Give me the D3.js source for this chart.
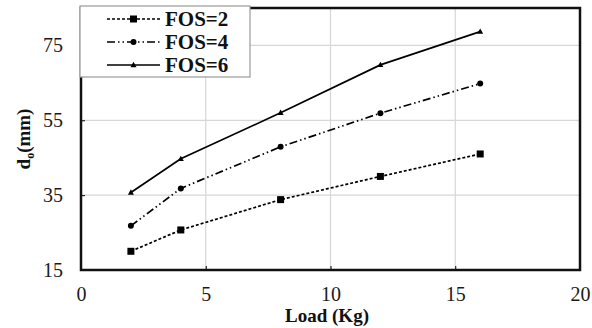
<!DOCTYPE html>
<html><head><meta charset="utf-8">
<script src="https://cdn.jsdelivr.net/npm/d3@7"></script>
<style>html,body{margin:0;padding:0;background:#fff;}
svg text{font-family:"Liberation Serif","DejaVu Serif",serif;}</style>
</head><body>
<svg id="chart" width="592" height="328"></svg>
<script>
const loads = [2, 4, 8, 12, 16];
const fos2 = [20, 25.7, 33.8, 40, 46];
const fos4 = [26.8, 36.8, 47.9, 56.9, 64.8];
const fos6 = [35.7, 44.7, 57, 69.8, 78.7];
const seriesNames = ["FOS=2", "FOS=4", "FOS=6"];
const xTicks = [0, 5, 10, 15, 20];
const yTicks = [15, 35, 55, 75];

const series = [
  {name: seriesNames[0], values: fos2, dash: "3,2", marker: "square"},
  {name: seriesNames[1], values: fos4, dash: "8,3,1.5,3,1.5,3", marker: "circle"},
  {name: seriesNames[2], values: fos6, dash: null, marker: "triangle"}
];

const svg = d3.select("#chart");
const m = {left: 81, right: 580, top: 8, bottom: 270};
const x = d3.scaleLinear().domain([0, 20]).range([m.left, m.right]);
const y = d3.scaleLinear().domain([15, 85]).range([m.bottom, m.top]);

// grid
svg.append("g").selectAll("line").data(xTicks.slice(1, -1)).join("line")
  .attr("x1", d => x(d)).attr("x2", d => x(d)).attr("y1", m.top).attr("y2", m.bottom)
  .attr("stroke", "#d6d6d6").attr("stroke-width", 1.2);
svg.append("g").selectAll("line").data(yTicks.slice(1)).join("line")
  .attr("x1", m.left).attr("x2", m.right).attr("y1", d => y(d)).attr("y2", d => y(d))
  .attr("stroke", "#d6d6d6").attr("stroke-width", 1.2);

// axes
const xAxis = svg.append("g").attr("transform", `translate(0,${m.bottom})`)
  .call(d3.axisBottom(x).tickValues(xTicks).tickSize(-4).tickPadding(17));
const yAxis = svg.append("g").attr("transform", `translate(${m.left},0)`)
  .call(d3.axisLeft(y).tickValues(yTicks).tickSize(-4).tickPadding(18));
[xAxis, yAxis].forEach(a => {
  a.select(".domain").remove();
  a.attr("font-family", null);
  a.selectAll(".tick line").attr("stroke", "#000").attr("stroke-width", 1);
  a.selectAll(".tick text").attr("font-size", 20).attr("fill", "#1a1a1a");
});

// frame
svg.append("rect").attr("x", m.left).attr("y", m.top)
  .attr("width", m.right - m.left).attr("height", m.bottom - m.top)
  .attr("fill", "none").attr("stroke", "#111").attr("stroke-width", 2.5);

// lines
const line = d3.line().x(d => x(d[0])).y(d => y(d[1]));
function drawMarker(g, type, cx, cy) {
  if (type === "square") {
    g.append("rect").attr("x", cx - 3.5).attr("y", cy - 3.5).attr("width", 7).attr("height", 7).attr("fill", "#000");
  } else if (type === "circle") {
    g.append("circle").attr("cx", cx).attr("cy", cy).attr("r", 3).attr("fill", "#000");
  } else {
    g.append("path").attr("d", `M${cx},${cy - 3.2}L${cx + 3},${cy + 2.2}L${cx - 3},${cy + 2.2}Z`).attr("fill", "#000");
  }
}
series.forEach(s => {
  const pts = loads.map((l, i) => [l, s.values[i]]);
  svg.append("path").datum(pts).attr("d", line)
    .attr("fill", "none").attr("stroke", "#000").attr("stroke-width", 1.7)
    .attr("stroke-dasharray", s.dash);
  const g = svg.append("g");
  pts.forEach(p => drawMarker(g, s.marker, x(p[0]), y(p[1])));
});

// legend
const lg = svg.append("g");
lg.append("rect").attr("x", 80).attr("y", 6).attr("width", 170).attr("height", 71)
  .attr("fill", "#fff").attr("stroke", "#999").attr("stroke-width", 1.2);
series.forEach((s, i) => {
  const ly = 19 + i * 23;
  lg.append("line").attr("x1", 107).attr("x2", 160).attr("y1", ly).attr("y2", ly)
    .attr("stroke", "#000").attr("stroke-width", 1.7).attr("stroke-dasharray", s.dash);
  drawMarker(lg, s.marker, 133.5, ly);
  lg.append("text").attr("x", 165).attr("y", ly + 7).text(s.name)
    .attr("font-weight", "bold").attr("font-size", 21).attr("fill", "#111");
});

// axis titles
svg.append("text").attr("x", 327).attr("y", 322).attr("text-anchor", "middle")
  .attr("font-weight", "bold").attr("font-size", 19).attr("fill", "#111")
  .text("Load (Kg)");
const yt = svg.append("text").attr("transform", `translate(30,${(m.top + m.bottom) / 2}) rotate(-90)`)
  .attr("text-anchor", "middle").attr("font-weight", "bold")
  .attr("font-size", 19).attr("fill", "#111");
yt.append("tspan").text("d");
yt.append("tspan").attr("font-size", 12).attr("dy", 4).text("o");
yt.append("tspan").attr("dy", -4).text("(mm)");
</script>
</body></html>
